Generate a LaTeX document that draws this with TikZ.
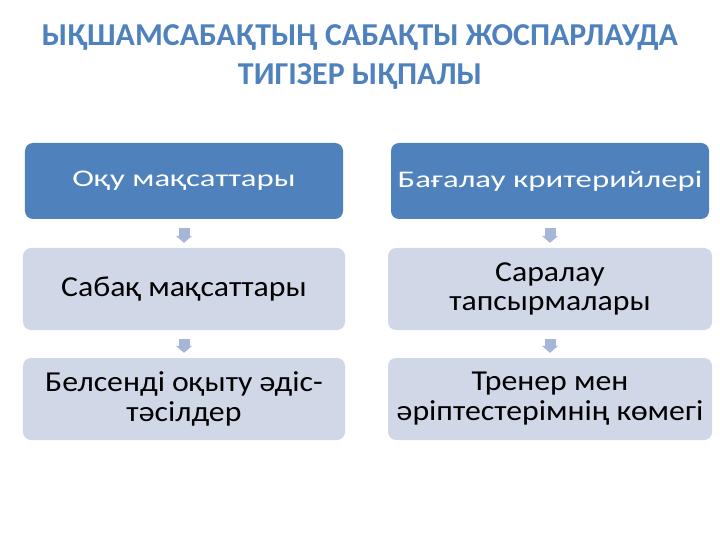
\documentclass[tikz,border=0pt]{standalone}
\usepackage{fontspec}
\setmainfont{Carlito}
\newfontfamily\headfont[FakeStretch=1.37]{Carlito}
\newfontfamily\subfont[FakeStretch=1.1]{Carlito}
\usetikzlibrary{arrows.meta}
\definecolor{titleblue}{HTML}{4F81BD}
\definecolor{headblue}{HTML}{4F81BD}
\definecolor{paleblue}{HTML}{D0D8E8}
\definecolor{arrowblue}{HTML}{A6B6D6}
\begin{document}
\begin{tikzpicture}[x=1bp,y=-1bp,line join=round,
	headbox/.style={fill=headblue,rounded corners=8bp,text=white,align=center,inner sep=0pt,font=\headfont\fontsize{24}{29}\selectfont},
	subbox/.style={fill=paleblue,rounded corners=8bp,text=black,align=center,inner sep=0pt,font=\subfont\fontsize{29}{30}\selectfont},
	flow/.style={draw=arrowblue,line width=11bp,-{Triangle[width=16bp,length=7bp]},shorten <=9bp,shorten >=5bp}]
		\useasboundingbox (0,0) rectangle (720,540);
		\node[anchor=base,align=center,text=titleblue,font=\bfseries\fontsize{32}{40}\selectfont] (title) at (360,85) {ЫҚШАМСАБАҚТЫҢ САБАҚТЫ ЖОСПАРЛАУДА\\ТИГІЗЕР ЫҚПАЛЫ};
		\node[headbox,minimum width=318bp,minimum height=76bp] (oqu) at (184,181) {Оқу мақсаттары};
		\node[subbox,minimum width=322bp,minimum height=82bp] (sabaq) at (184,289) {Сабақ мақсаттары};
		\node[subbox,minimum width=322bp,minimum height=82bp] (belsendi) at (184,399) {Белсенді оқыту әдіс-\\тәсілдер};
		\node[headbox,minimum width=318bp,minimum height=76bp] (bagalau) at (550,181) {Бағалау критерийлері};
		\node[subbox,minimum width=324bp,minimum height=82bp] (saralau) at (550,289) {Саралау\\тапсырмалары};
		\node[subbox,minimum width=324bp,minimum height=82bp] (trener) at (550,399) {Тренер мен\\әріптестерімнің көмегі};
		\draw[flow] (oqu) -- (sabaq);
		\draw[flow] (sabaq) -- (belsendi);
		\draw[flow] (bagalau) -- (saralau);
		\draw[flow] (saralau) -- (trener);
		\end{tikzpicture}
\end{document}
